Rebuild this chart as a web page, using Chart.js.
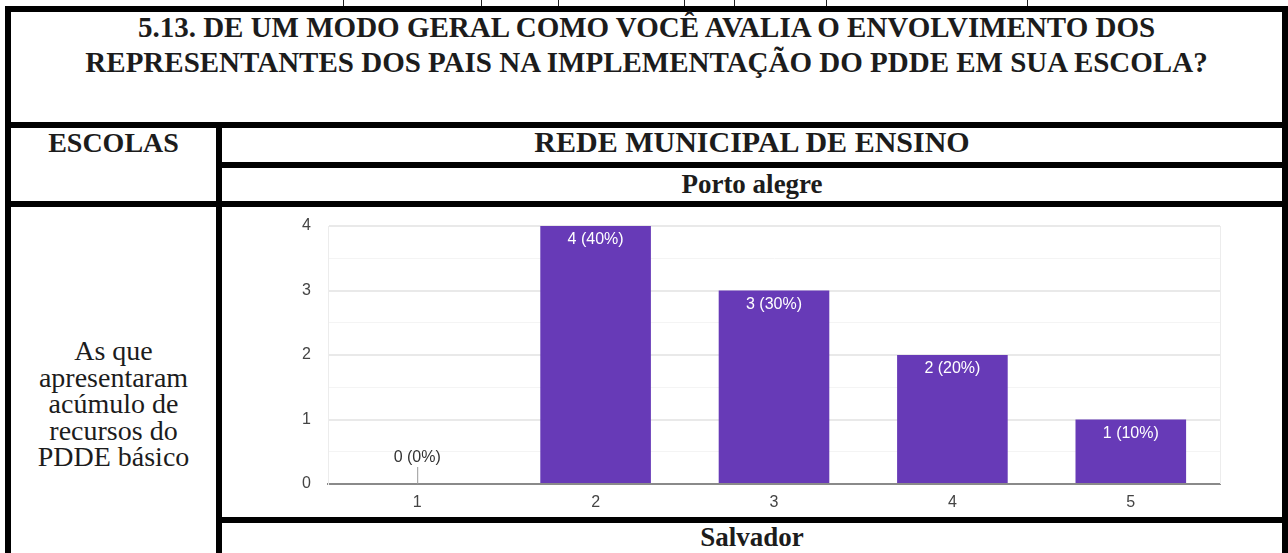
<!DOCTYPE html>
<html>
<head>
<meta charset="utf-8">
<script src="https://cdn.jsdelivr.net/npm/chart.js@4"></script>
<style>
  html, body { margin: 0; padding: 0; background: #fff; }
  body { width: 1288px; height: 553px; position: relative; overflow: hidden; }
  .rule { position: absolute; background: #000; }
  .tick { position: absolute; top: 0; width: 1px; height: 7px; background: #222; }
  .txt {
    position: absolute; text-align: center; color: #1c1c1c; white-space: nowrap;
    font-family: "Liberation Serif", "Times New Roman", serif;
  }
  .b { font-weight: bold; }
  #chartBox { position: absolute; left: 222px; top: 207px; width: 1060px; height: 310px; }
</style>
</head>
<body>
  <!-- leftover bits of the previous table row -->
  <div class="tick" style="left:343px"></div>
  <div class="tick" style="left:481px"></div>
  <div class="tick" style="left:558px"></div>
  <div class="tick" style="left:684px"></div>
  <div class="tick" style="left:734px"></div>
  <div class="tick" style="left:826px"></div>
  <div class="tick" style="left:1027px"></div>

  <!-- table borders -->
  <div class="rule" style="left:5px;top:6px;width:1283px;height:6px"></div>
  <div class="rule" style="left:5px;top:6px;width:6px;height:547px"></div>
  <div class="rule" style="left:1282px;top:6px;width:6px;height:547px"></div>
  <div class="rule" style="left:5px;top:122px;width:1283px;height:6px"></div>
  <div class="rule" style="left:216px;top:122px;width:6px;height:431px"></div>
  <div class="rule" style="left:222px;top:162px;width:1066px;height:6px"></div>
  <div class="rule" style="left:5px;top:201px;width:1283px;height:6px"></div>
  <div class="rule" style="left:222px;top:517px;width:1066px;height:6px"></div>

  <div class="txt b" style="left:11px;top:10px;width:1271px;font-size:29px;line-height:35px">
    5.13. DE UM MODO GERAL COMO VOCÊ AVALIA O ENVOLVIMENTO DOS<br>
    REPRESENTANTES DOS PAIS NA IMPLEMENTAÇÃO DO PDDE EM SUA ESCOLA?
  </div>
  <div class="txt b" style="left:11px;top:127px;width:205px;font-size:28px;line-height:32px">ESCOLAS</div>
  <div class="txt b" style="left:222px;top:126px;width:1060px;font-size:30px;line-height:32px">REDE MUNICIPAL DE ENSINO</div>
  <div class="txt b" style="left:222px;top:168px;width:1060px;font-size:27px;line-height:32px">Porto alegre</div>
  <div class="txt" style="left:11px;top:338px;width:205px;font-size:28px;line-height:26.5px">
    As que<br>apresentaram<br>acúmulo de<br>recursos do<br>PDDE básico
  </div>
  <div class="txt b" style="left:222px;top:521px;width:1060px;font-size:27px;line-height:32px">Salvador</div>

  <div id="chartBox"><canvas id="chart"></canvas></div>

<script>
const categories = ['1', '2', '3', '4', '5']
const counts = [0, 4, 3, 2, 1]
const yTicks = [0, 1, 2, 3, 4]

const purple = 'rgb(103, 58, 183)'
const sans = '"Liberation Sans", Arial, sans-serif'

// labels like "4 (40%)" inside the bars, "0 (0%)" above the axis with a leader line
const barLabels = {
  id: 'barLabels',
  afterDatasetsDraw(chart) {
    const { ctx, chartArea } = chart
    const total = counts.reduce((a, b) => a + b, 0)
    const meta = chart.getDatasetMeta(0)
    ctx.save()
    ctx.font = '16px ' + sans
    ctx.textAlign = 'center'
    ctx.textBaseline = 'middle'
    meta.data.forEach((bar, i) => {
      const v = counts[i]
      const text = `${v} (${Math.round(v / total * 100)}%)`
      if (v > 0) {
        ctx.fillStyle = '#fff'
        ctx.fillText(text, bar.x, bar.y + 14)
      } else {
        ctx.strokeStyle = '#999'
        ctx.lineWidth = 1
        ctx.beginPath()
        ctx.moveTo(bar.x + 0.5, bar.y)
        ctx.lineTo(bar.x + 0.5, bar.y - 17)
        ctx.stroke()
        ctx.fillStyle = '#333'
        ctx.fillText(text, bar.x, bar.y - 26)
      }
    })
    // faint right edge of the plot
    ctx.strokeStyle = '#ececec'
    ctx.beginPath()
    ctx.moveTo(chartArea.right + 0.5, chartArea.top)
    ctx.lineTo(chartArea.right + 0.5, chartArea.bottom)
    ctx.stroke()
    ctx.restore()
  }
}

const config = {
  type: 'bar',
  data: {
    labels: categories,
    datasets: [
      {
        data: counts,
        backgroundColor: purple,
        borderWidth: 0,
        barPercentage: 0.62,
        categoryPercentage: 1,
      },
    ],
  },
  options: {
    responsive: true,
    maintainAspectRatio: false,
    animation: false,
    layout: { padding: { left: 76, right: 62, top: 19, bottom: 0 } },
    scales: {
      x: {
        grid: { display: false, drawTicks: false },
        border: { display: true, color: '#8a8a8a', width: 2 },
        ticks: { color: '#444', font: { family: sans, size: 16 }, padding: 9 },
        afterFit: (scale) => {
          scale.height = 33
          scale.paddingLeft = 0
          scale.paddingRight = 0
        },
      },
      y: {
        min: yTicks[0],
        max: yTicks[yTicks.length - 1],
        grid: {
          drawTicks: false,
          color: (c) => {
            const v = c.tick.value
            if (v === 0) return 'transparent'
            return Number.isInteger(v) ? '#e9e9e9' : '#f4f4f4'
          },
          lineWidth: (c) => Number.isInteger(c.tick.value) ? 2 : 1,
        },
        border: { display: true, color: '#ececec', width: 1 },
        ticks: {
          stepSize: 0.5,
          padding: 17,
          color: '#444',
          font: { family: sans, size: 16 },
          callback: (v) => yTicks.includes(v) ? String(v) : '',
        },
        afterFit: (scale) => {
          scale.width = 30
          scale.paddingTop = 0
          scale.paddingBottom = 0
        },
      },
    },
    plugins: {
      legend: { display: false },
      tooltip: { enabled: false },
    },
  },
  plugins: [barLabels],
}

new Chart(document.getElementById('chart'), config)
</script>
</body>
</html>
